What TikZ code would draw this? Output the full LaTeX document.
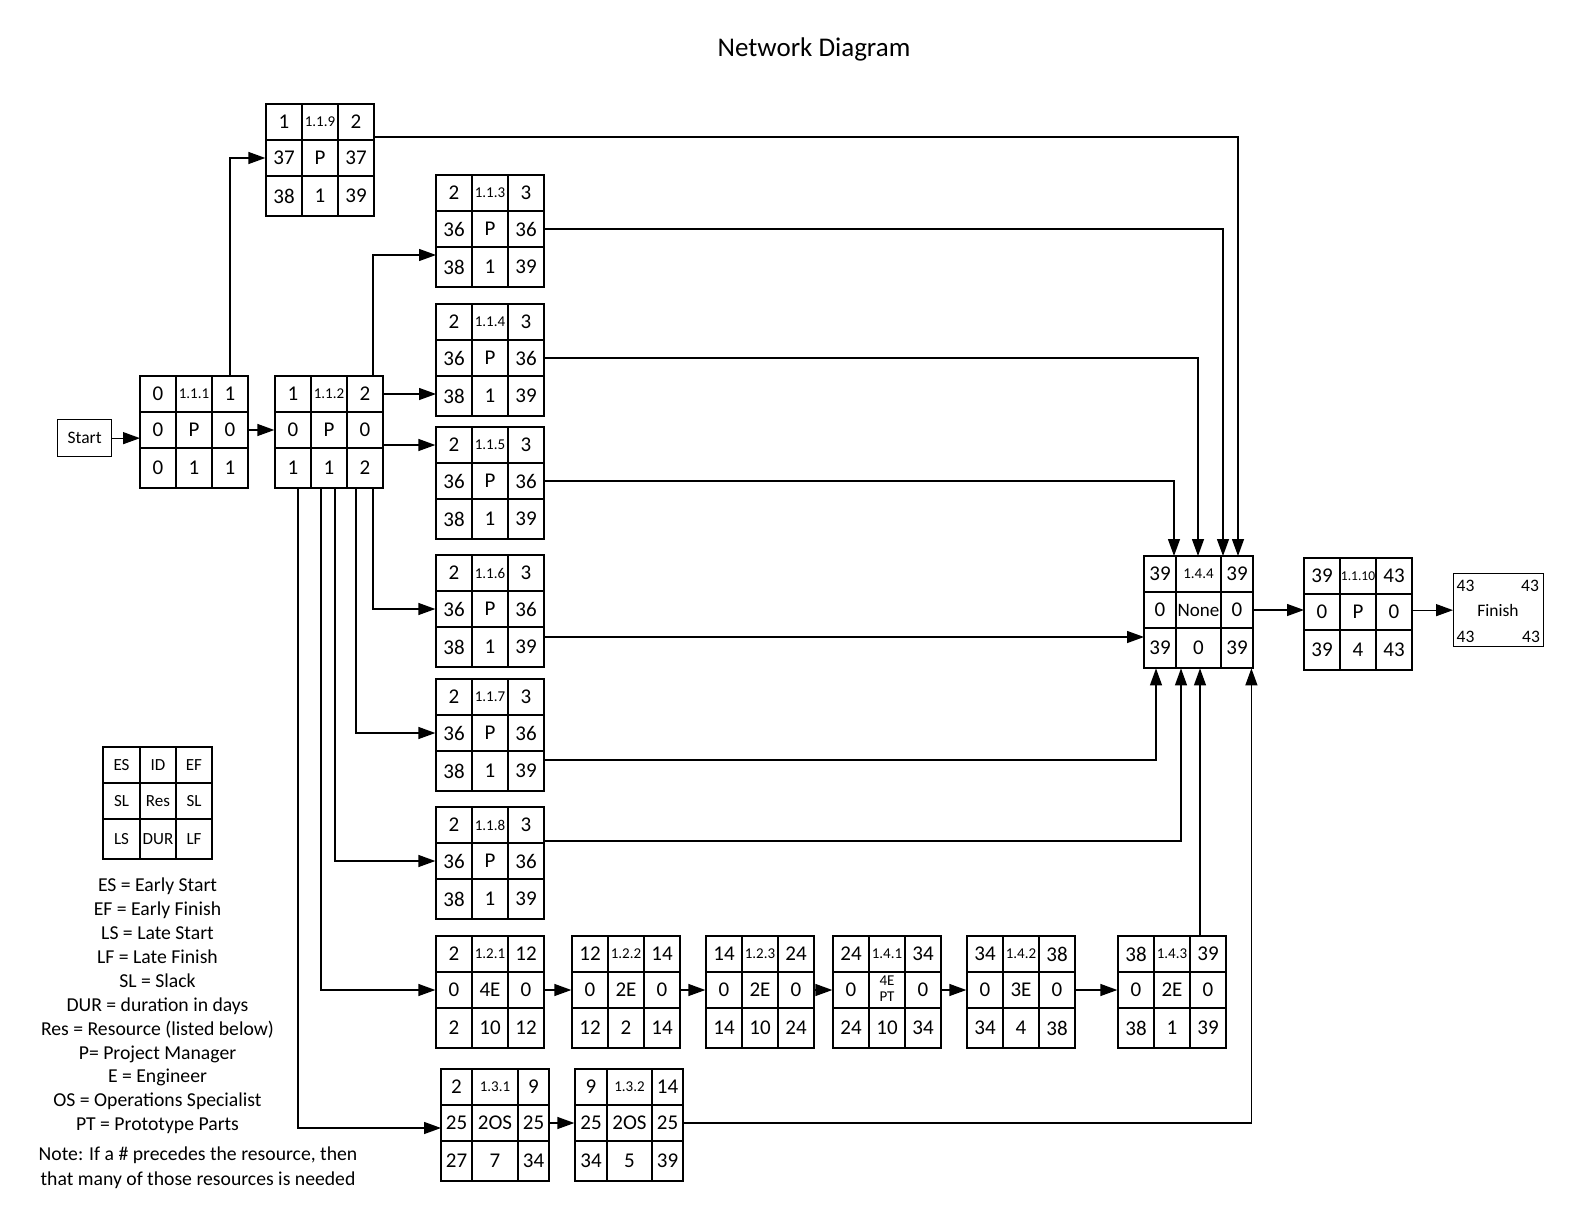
\documentclass[tikz,border=0pt]{standalone}
\usepackage{fontspec}
\setmainfont{Carlito}
\usetikzlibrary{arrows.meta,calc}
\newcommand{\numsz}{\fontsize{21}{24}\selectfont}
\newcommand{\idsz}{\fontsize{15}{19}\selectfont}
\newcommand{\lgsz}{\fontsize{17}{20}\selectfont}
\newcommand{\txsz}{\fontsize{19.7}{24}\selectfont}
\newcommand{\twoline}[2]{\begin{tabular}{@{}c@{}}#1\\#2\end{tabular}}
\newcommand{\actbox}[6]{%
  \def\qbn{#1}\def\qbx{#2}\def\qby{#3}\def\qba{#4}\def\qbb{#5}\def\qbc{#6}%
  \pgfmathsetmacro\qbw{#4+#5+#6}%
  \node[frame, minimum width=\qbw pt] (#1) at (#2,#3) {};%
}
\newcommand{\cells}[9]{%
  \node[cell, cellnum, minimum width=\qba pt, minimum height=36pt] (\qbn-1) at ({\qbx+\qba/2},{\qby+18}) {#1};
  \node[cell, cellid, minimum width=\qbb pt, minimum height=36pt] (\qbn-2) at ({\qbx+\qba+\qbb/2},{\qby+18}) {#2};
  \node[cell, cellnum, minimum width=\qbc pt, minimum height=36pt] (\qbn-3) at ({\qbx+\qba+\qbb+\qbc/2},{\qby+18}) {#3};
  \node[cell, cellnum, minimum width=\qba pt, minimum height=36pt] (\qbn-4) at ({\qbx+\qba/2},{\qby+54}) {#4};
  \node[cell, cellnum, minimum width=\qbb pt, minimum height=36pt] (\qbn-5) at ({\qbx+\qba+\qbb/2},{\qby+54}) {#5};
  \node[cell, cellnum, minimum width=\qbc pt, minimum height=36pt] (\qbn-6) at ({\qbx+\qba+\qbb+\qbc/2},{\qby+54}) {#6};
  \node[cell, cellnum, minimum width=\qba pt, minimum height=40pt] (\qbn-7) at ({\qbx+\qba/2},{\qby+92}) {#7};
  \node[cell, cellnum, minimum width=\qbb pt, minimum height=40pt] (\qbn-8) at ({\qbx+\qba+\qbb/2},{\qby+92}) {#8};
  \node[cell, cellnum, minimum width=\qbc pt, minimum height=40pt] (\qbn-9) at ({\qbx+\qba+\qbb+\qbc/2},{\qby+92}) {#9};
}
\begin{document}
\begin{tikzpicture}[x=1pt,y=-1pt,
  frame/.style={anchor=north west, inner sep=0pt, minimum height=112pt, draw=none},
  cell/.style={draw, line width=1.3pt, inner sep=0pt, shape=rectangle},
  cellnum/.style={font=\numsz},
  cellid/.style={font=\idsz},
  plainbox/.style={draw, line width=1.3pt, inner sep=0pt, anchor=north west},
  arr/.style={draw, line width=1.3pt, -{Triangle[length=17pt,width=12pt]}},
  legtxt/.style={anchor=base, inner sep=0pt, font=\txsz},
  lbl/.style={inner sep=0pt}]
\fill[white] (0,0) rectangle (1580,1220);
\useasboundingbox (0,0) rectangle (1580,1220);

\node[anchor=base, inner sep=0pt, font=\fontsize{27}{32}\selectfont] (title) at (814,56.7) {Network Diagram};

% Start
\node[plainbox, minimum width=54pt, minimum height=37pt, font=\fontsize{17.5}{20}\selectfont] (start) at (57,419) {Start};

% boxes
\actbox{b111}{140}{376}{36}{36}{36}\cells{0}{1.1.1}{1}{0}{P}{0}{0}{1}{1}
\actbox{b112}{275}{376}{36}{36}{36}\cells{1}{1.1.2}{2}{0}{P}{0}{1}{1}{2}
\actbox{b119}{266}{104}{36}{36}{36}\cells{1}{1.1.9}{2}{37}{P}{37}{38}{1}{39}
\actbox{b113}{436}{175}{36}{36}{36}\cells{2}{1.1.3}{3}{36}{P}{36}{38}{1}{39}
\actbox{b114}{436}{304}{36}{36}{36}\cells{2}{1.1.4}{3}{36}{P}{36}{38}{1}{39}
\actbox{b115}{436}{427}{36}{36}{36}\cells{2}{1.1.5}{3}{36}{P}{36}{38}{1}{39}
\actbox{b116}{436}{555}{36}{36}{36}\cells{2}{1.1.6}{3}{36}{P}{36}{38}{1}{39}
\actbox{b117}{436}{679}{36}{36}{36}\cells{2}{1.1.7}{3}{36}{P}{36}{38}{1}{39}
\actbox{b118}{436}{807}{36}{36}{36}\cells{2}{1.1.8}{3}{36}{P}{36}{38}{1}{39}
\actbox{b121}{436}{936}{36}{36}{36}\cells{2}{1.2.1}{12}{0}{4E}{0}{2}{10}{12}
\actbox{b122}{572}{936}{36}{36}{36}\cells{12}{1.2.2}{14}{0}{2E}{0}{12}{2}{14}
\actbox{b123}{706}{936}{36}{36}{36}\cells{14}{1.2.3}{24}{0}{2E}{0}{14}{10}{24}
\actbox{b141}{833}{936}{36}{36}{36}\cells{24}{1.4.1}{34}{0}{{\fontsize{15}{16}\selectfont\twoline{4E}{PT}}}{0}{24}{10}{34}
\actbox{b142}{967}{936}{36}{36}{36}\cells{34}{1.4.2}{38}{0}{3E}{0}{34}{4}{38}
\actbox{b143}{1118}{936}{36}{36}{36}\cells{38}{1.4.3}{39}{0}{2E}{0}{38}{1}{39}
\actbox{b131}{441}{1069}{31}{46}{31}\cells{2}{1.3.1}{9}{25}{2OS}{25}{27}{7}{34}
\actbox{b132}{575}{1069}{32}{45}{31}\cells{9}{1.3.2}{14}{25}{2OS}{25}{34}{5}{39}
\actbox{b144}{1144}{556}{32}{45}{32}\cells{39}{1.4.4}{39}{0}{{\fontsize{19}{22}\selectfont None}}{0}{39}{0}{39}
\actbox{b1110}{1304}{558}{36}{36}{36}\cells{39}{{\fontsize{13.5}{16}\selectfont 1.1.10}}{43}{0}{P}{0}{39}{4}{43}

% Finish
\node[plainbox, minimum width=90pt, minimum height=73pt] (finish) at (1453,573) {};
\node[lbl, font=\fontsize{17.5}{20}\selectfont] (finlabel) at (1498,610.5) {Finish};
\node[lbl, font=\fontsize{17.5}{20}\selectfont] (fintl) at (1465.5,586) {43};
\node[lbl, font=\fontsize{17.5}{20}\selectfont] (fintr) at (1530,586) {43};
\node[lbl, font=\fontsize{17.5}{20}\selectfont] (finbl) at (1465.5,637) {43};
\node[lbl, font=\fontsize{17.5}{20}\selectfont] (finbr) at (1531,637) {43};

% legend box
\begin{scope}[cellnum/.style={font=\lgsz}, cellid/.style={font=\lgsz}]
\actbox{lg}{103}{747}{37}{36}{36}\cells{ES}{ID}{EF}{SL}{Res}{SL}{LS}{DUR}{LF}
\end{scope}

% legend text
\foreach \t [count=\i] in {ES = Early Start, EF = Early Finish, LS = Late Start, LF = Late Finish, SL = Slack, DUR = duration in days, Res = Resource (listed below), P= Project Manager, E = Engineer, OS = Operations Specialist, PT = Prototype Parts}
  \node[legtxt] (leg\i) at (157.5,{891.7+23.9*(\i-1)}) {\t};
\node[legtxt] (note1) at (198,1160.7) {Note: If a \# precedes the resource, then};
\node[legtxt] (note2) at (198,1185) {that many of those resources is needed};

% connectors
\draw[arr] (start.east) -- (start.east -| b111.west);
\draw[arr] (b111-6.east) -- (b112-4.west);
\draw[arr] (b111-3.north) |- (b119-4.west);
\draw[arr] ($(b112.north west)+(98,0)$) |- ($(b113.north west)+(0,80)$);
\draw[arr] (b112-3.east) -- (b112-3.east -| b114.west);
\draw[arr] (b115-1.west -| b112.east) -- (b115-1.west);
\draw[arr] ($(b112.south west)+(98,0)$) |- (b116-4.west);
\draw[arr] ($(b112.south west)+(81,0)$) |- (b117-4.west);
\draw[arr] ($(b112.south west)+(60,0)$) |- (b118-4.west);
\draw[arr] ($(b112.south west)+(46,0)$) |- (b121-4.west);
\draw[arr] ($(b112.south west)+(23,0)$) |- ($(b131.north west)+(0,59)$);

\draw[arr] (b121-6.east) -- (b122-4.west);
\draw[arr] (b122-6.east) -- (b123-4.west);
\draw[arr] (b123-6.east) -- (b141-4.west);
\draw[arr] (b141-6.east) -- (b142-4.west);
\draw[arr] (b142-6.east) -- (b143-4.west);
\draw[arr] (b131-6.east) -- (b132-4.west);

\draw[arr] ($(b119.north east)+(0,33)$) -| ($(b144.north west)+(94,0)$);
\draw[arr] (b113-6.east) -| ($(b144.north west)+(79,0)$);
\draw[arr] (b114-6.east) -| ($(b144.north west)+(54,0)$);
\draw[arr] (b115-6.east) -| ($(b144.north west)+(30,0)$);
\coordinate (p116) at ($(b116.north east)+(0,82)$);
\draw[arr] (p116) -- (p116 -| b144.west);
\draw[arr] ($(b117.north east)+(0,81)$) -| ($(b144.south west)+(12,0)$);
\draw[arr] ($(b118.north east)+(0,34)$) -| ($(b144.south west)+(37,0)$);
\draw[arr] ($(b143.north west)+(82,0)$) -- ($(b144.south west)+(56,0)$);
\draw[arr] (b132-6.east) -| ($(b144.south east)+(-2,0)$);

\draw[arr] (b144-6.east) -- (b144-6.east -| b1110.west);
\draw[arr] (finish.west -| b1110.east) -- (finish.west);
\end{tikzpicture}
\end{document}
